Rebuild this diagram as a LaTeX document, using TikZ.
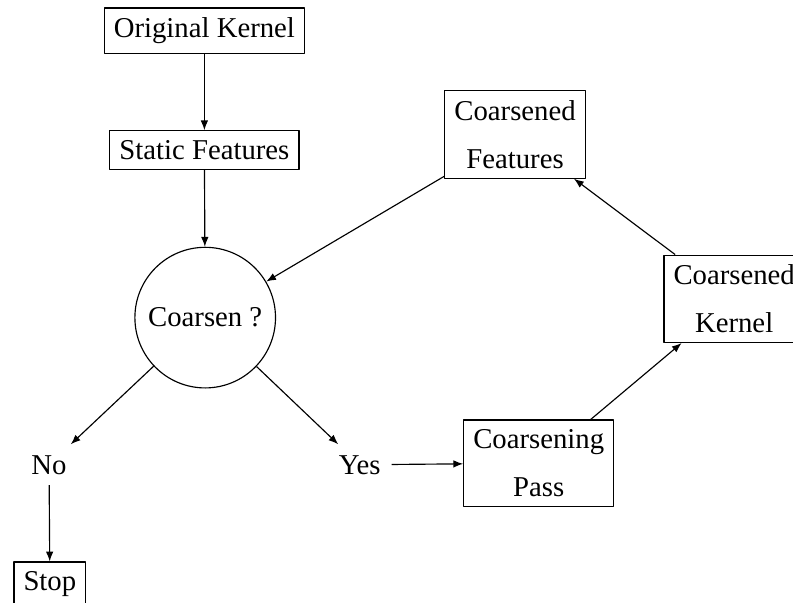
\documentclass[tikz,border=0pt]{standalone}
\usepackage{fontspec}
\setmainfont{Liberation Serif}
\usetikzlibrary{arrows.meta,positioning}
\tikzset{
  block/.style={draw,rectangle,align=center,inner sep=3.33pt},
  decision/.style={draw,circle,minimum size=1.72cm,inner sep=0pt},
  answer/.style={inner sep=3.6pt},
  flow/.style={-{Latex[length=3.4pt,width=2.6pt]}}
}

\begin{document}
\begin{tikzpicture}[line join=round]
  \useasboundingbox (0,0) rectangle (9.70,7.375);
  % main chain
  \node[block] (orig)   at (2.50,7.00) {Original Kernel};
  \node[block] (static) at (2.50,5.54) {Static Features};
  \node[decision] (coarsen) at (2.51,3.49) {Coarsen ?};
  \node[answer] (no)  at (0.60,1.69) {No};
  \node[answer] (yes) at (4.40,1.69) {Yes};
  \node[block] (stop) at (0.61,0.23) {Stop};
  % coarsening loop
  \node[block] (pass)    at (6.59,1.71) {Coarsening\\[4.7pt]Pass};
  \node[block] (ckernel) at (8.98,3.72) {Coarsened\\[4.7pt]Kernel};
  \node[block] (cfeat)   at (6.30,5.73) {Coarsened\\[4.7pt]Features};

  \draw[flow] (orig) -- (static);
  \draw[flow] (static) -- (coarsen);
  \draw[flow] (coarsen) -- (no);
  \draw[flow] (coarsen) -- (yes);
  \draw[flow] (no) -- (stop);
  \draw[flow] (yes) -- (pass);
  \draw[flow] (pass) -- (ckernel);
  \draw[flow] (ckernel) -- (cfeat);
  \draw[flow] (cfeat) -- (coarsen);
\end{tikzpicture}
\end{document}
